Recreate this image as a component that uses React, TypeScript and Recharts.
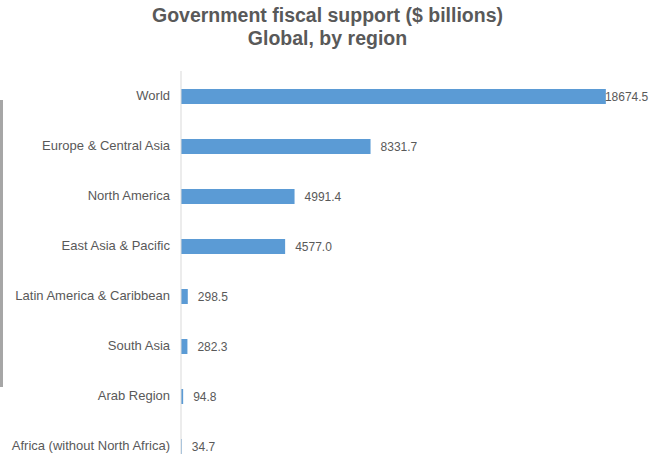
import React from 'react';
import { BarChart, Bar, XAxis, YAxis, LabelList } from 'recharts';

const regions = [
  'World',
  'Europe & Central Asia',
  'North America',
  'East Asia & Pacific',
  'Latin America & Caribbean',
  'South Asia',
  'Arab Region',
  'Africa (without North Africa)',
];
const support = [18674.5, 8331.7, 4991.4, 4577.0, 298.5, 282.3, 94.8, 34.7];

const data = regions.map((name, i) => ({ name, value: support[i] }));

const FONT = '"Liberation Sans", Arial, sans-serif';
const TEXT = '#595959';

// value labels sit 10px past the bar end, but get pulled back when they'd run off the edge
const ValueLabel = (props: any) => {
  const { x, y, width, height, value } = props;
  const txt = Number(value).toFixed(1);
  const w = txt.length * 6.3;
  const lx = Math.min(x + width + 10, 649 - w);
  return (
    <text x={lx} y={y + height / 2} dy={4} fontSize={12} fill={TEXT} fontFamily={FONT}>
      {txt}
    </text>
  );
};

// single-line category labels (default tick wraps long names)
const RegionTick = (props: any) => {
  const { x, y, payload } = props;
  return (
    <text x={x - 3} y={y} dy={4} textAnchor="end" fontSize={13} fill={TEXT} fontFamily={FONT}>
      {payload.value}
    </text>
  );
};

export default function App() {
  return (
    <div style={{ position: 'absolute', left: 0, top: 0, width: 649, height: 454, overflow: 'hidden', background: '#fff' }}>
      <div style={{ position: 'absolute', left: 0, top: 100, width: 3, height: 287, background: '#a6a6a6' }} />
      <div
        style={{
          position: 'absolute',
          left: 0,
          top: 4,
          width: 655,
          textAlign: 'center',
          fontFamily: FONT,
          fontWeight: 'bold',
          fontSize: 19.5,
          lineHeight: '23px',
          color: TEXT,
        }}
      >
        Government fiscal support ($ billions)
        <br />
        Global, by region
      </div>
      <div style={{ position: 'absolute', left: 0, top: 0 }}>
        <BarChart
          width={649}
          height={480}
          data={data}
          layout="vertical"
          margin={{ top: 71, right: 13, left: 0, bottom: 9 }}
        >
          <XAxis type="number" domain={[0, 20000]} hide />
          <YAxis
            type="category"
            dataKey="name"
            width={181}
            axisLine={{ stroke: '#d9d9d9' }}
            tickLine={false}
            tick={<RegionTick />}
            interval={0}
          />
          <Bar dataKey="value" fill="#5B9BD5" barSize={15} isAnimationActive={false}>
            <LabelList dataKey="value" content={ValueLabel} />
          </Bar>
        </BarChart>
      </div>
    </div>
  );
}
